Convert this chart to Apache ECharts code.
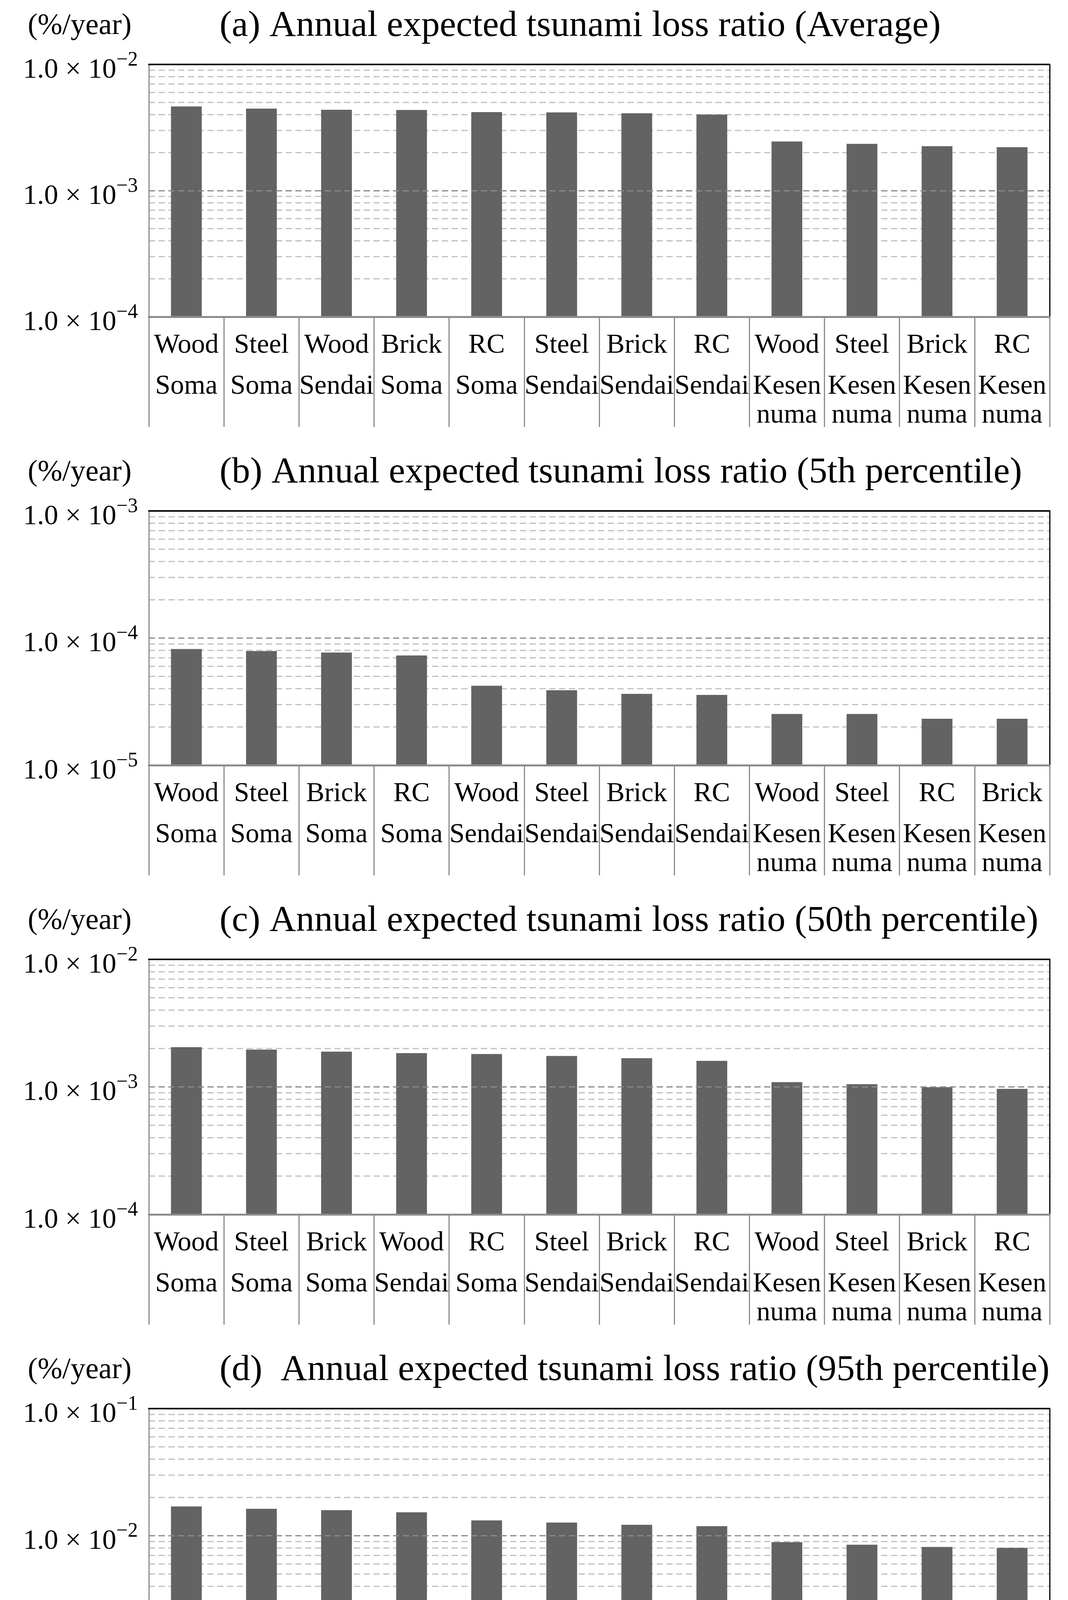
<!DOCTYPE html>
<html><head><meta charset="utf-8">
<script src="https://cdn.jsdelivr.net/npm/echarts@6/dist/echarts.min.js"></script>
<style>html,body{margin:0;padding:0;background:#fff}#c{width:2734px;height:4581px}</style>
</head><body><div id="c"></div>
<script>
// ---------- data ----------
const catsA = ["Wood\nSoma","Steel\nSoma","Wood\nSendai","Brick\nSoma","RC\nSoma","Steel\nSendai","Brick\nSendai","RC\nSendai","Wood\nKesen\nnuma","Steel\nKesen\nnuma","Brick\nKesen\nnuma","RC\nKesen\nnuma"];
const valsA = [4.65e-3, 4.47e-3, 4.37e-3, 4.36e-3, 4.19e-3, 4.17e-3, 4.10e-3, 4.01e-3, 2.45e-3, 2.35e-3, 2.25e-3, 2.21e-3];

const catsB = ["Wood\nSoma","Steel\nSoma","Brick\nSoma","RC\nSoma","Wood\nSendai","Steel\nSendai","Brick\nSendai","RC\nSendai","Wood\nKesen\nnuma","Steel\nKesen\nnuma","RC\nKesen\nnuma","Brick\nKesen\nnuma"];
const valsB = [8.2e-5, 7.9e-5, 7.7e-5, 7.3e-5, 4.22e-5, 3.89e-5, 3.64e-5, 3.57e-5, 2.53e-5, 2.53e-5, 2.32e-5, 2.32e-5];

const catsC = ["Wood\nSoma","Steel\nSoma","Brick\nSoma","Wood\nSendai","RC\nSoma","Steel\nSendai","Brick\nSendai","RC\nSendai","Wood\nKesen\nnuma","Steel\nKesen\nnuma","Brick\nKesen\nnuma","RC\nKesen\nnuma"];
const valsC = [2.05e-3, 1.96e-3, 1.89e-3, 1.84e-3, 1.81e-3, 1.75e-3, 1.68e-3, 1.60e-3, 1.09e-3, 1.05e-3, 9.95e-4, 9.66e-4];

const catsD = ["Wood\nSoma","Steel\nSoma","Brick\nSoma","RC\nSoma","Wood\nSendai","Steel\nSendai","Brick\nSendai","RC\nSendai","Wood\nKesen\nnuma","Steel\nKesen\nnuma","Brick\nKesen\nnuma","RC\nKesen\nnuma"];
const valsD = [1.70e-2, 1.63e-2, 1.59e-2, 1.53e-2, 1.32e-2, 1.27e-2, 1.22e-2, 1.19e-2, 8.9e-3, 8.5e-3, 8.16e-3, 8.03e-3];

const titles = [
  "(a) Annual expected tsunami loss ratio (Average)",
  "(b) Annual expected tsunami loss ratio (5th percentile)",
  "(c) Annual expected tsunami loss ratio (50th percentile)",
  "(d)  Annual expected tsunami loss ratio (95th percentile)"
];
const unitLabel = "(%/year)";
const expRanges = [[-4, -2], [-5, -3], [-4, -2], [-3, -1]];

// ---------- layout ----------
const FONT = "'Liberation Serif', 'Times New Roman', serif";
const gridTops = [165, 1308, 2456, 3606];
const gridHeights = [646, 651, 653, 651];
const panels = [[catsA, valsA], [catsB, valsB], [catsC, valsC], [catsD, valsD]];

function minorValues(e0, e1) {
  const out = [];
  for (let e = e0; e < e1; e++) {
    for (let k = 2; k <= 9; k++) out.push([0, k * Math.pow(10, e)]);
  }
  return out;
}

const grid = [], xAxis = [], yAxis = [], series = [], graphic = [];

panels.forEach(([cats, vals], i) => {
  const [e0, e1] = expRanges[i];
  const yMin = Math.pow(10, e0), yMax = Math.pow(10, e1);
  grid.push({ left: 381, right: 47, top: gridTops[i], height: gridHeights[i], containLabel: false });

  xAxis.push({
    type: 'category', gridIndex: i, data: cats, position: 'bottom', z: 5,
    axisLine: { show: true, lineStyle: { color: '#8c8c8c', width: 5 } },
    axisTick: { show: true, interval: 0, alignWithLabel: false, length: 282, lineStyle: { color: '#8c8c8c', width: 3 } },
    axisLabel: {
      interval: 0, margin: 6, color: '#000', fontFamily: FONT,
      formatter: v => v.split('\n').map((s, k) => k === 0 ? '{t|' + s + '}' : '{l|' + s + '}').join('\n'),
      rich: {
        t: { fontSize: 70, lineHeight: 136, fontFamily: FONT, color: '#000', verticalAlign: 'middle' },
        l: { fontSize: 70, lineHeight: 74, fontFamily: FONT, color: '#000', verticalAlign: 'middle' }
      }
    },
    splitLine: { show: false }
  });
  xAxis.push({
    type: 'category', gridIndex: i, data: cats, position: 'top', z: 5,
    axisLine: { show: true, lineStyle: { color: '#000', width: 4 } },
    axisTick: { show: false }, axisLabel: { show: false }, splitLine: { show: false }
  });

  yAxis.push({
    type: 'log', logBase: 10, gridIndex: i, min: yMin, max: yMax, position: 'left', z: 4,
    axisLine: { show: true, lineStyle: { color: '#8c8c8c', width: 3 } },
    axisTick: { show: false },
    axisLabel: {
      margin: 28, color: '#000', padding: [14, 0, 0, 0],
      formatter: v => {
        const e = Math.round(Math.log10(v));
        return '{b|1.0 \u00d7 10}{s|' + (e < 0 ? '\u2212' + (-e) : String(e)) + '}';
      },
      rich: {
        b: { fontSize: 72, lineHeight: 88, fontFamily: FONT, color: '#000', verticalAlign: 'bottom' },
        s: { fontSize: 52, lineHeight: 52, fontFamily: FONT, color: '#000', verticalAlign: 'top' }
      }
    },
    splitLine: { show: true, lineStyle: { color: '#8a8a8a', width: 3, type: [16, 9] } },
    minorTick: { show: false }, minorSplitLine: { show: false }
  });
  yAxis.push({
    type: 'value', gridIndex: i, position: 'right', min: 0, max: 1, z: 5,
    axisLine: { show: true, lineStyle: { color: '#000', width: 3 } },
    axisTick: { show: false }, axisLabel: { show: false }, splitLine: { show: false }
  });

  // minor grid lines (2..9 x 10^n), placed through the log axis
  series.push({
    type: 'custom', xAxisIndex: 2 * i, yAxisIndex: 2 * i, z: 1, silent: true,
    data: minorValues(e0, e1),
    encode: { x: 0, y: 1 },
    clip: true,
    renderItem: (params, api) => {
      const cs = params.coordSys;
      const y = api.coord([0, api.value(1)])[1];
      return {
        type: 'line',
        shape: { x1: cs.x, y1: y, x2: cs.x + cs.width, y2: y },
        style: { stroke: '#c0c0c0', lineWidth: 3, lineDash: [16, 9] }
      };
    }
  });
  // bars
  series.push({
    type: 'custom', xAxisIndex: 2 * i, yAxisIndex: 2 * i, z: 3,
    data: vals.map((v, j) => [j, v]),
    encode: { x: 0, y: 1 },
    renderItem: (params, api) => {
      const x = api.value(0), y = api.value(1);
      const top = api.coord([x, y]);
      const base = api.coord([x, yMin]);
      const bw = api.size([1, 0], [x, y])[0] * 0.41;
      return {
        type: 'rect',
        shape: { x: top[0] - bw / 2, y: top[1], width: bw, height: base[1] - top[1] },
        style: { fill: '#636363' }
      };
    }
  });

  const cy = gridTops[i] - 98;
  graphic.push({ type: 'text', x: 71, y: cy, style: { text: unitLabel, fontSize: 76, fontFamily: FONT, fill: '#000', verticalAlign: 'middle', align: 'left' } });
  graphic.push({ type: 'text', x: 562, y: cy, style: { text: titles[i], fontSize: 94, fontFamily: FONT, fill: '#000', verticalAlign: 'middle', align: 'left' } });
});

const chart = echarts.init(document.getElementById('c'), null, { renderer: 'canvas' });
chart.setOption({
  animation: false,
  backgroundColor: '#fff',
  grid, xAxis, yAxis, series, graphic
});
</script>
</body></html>
